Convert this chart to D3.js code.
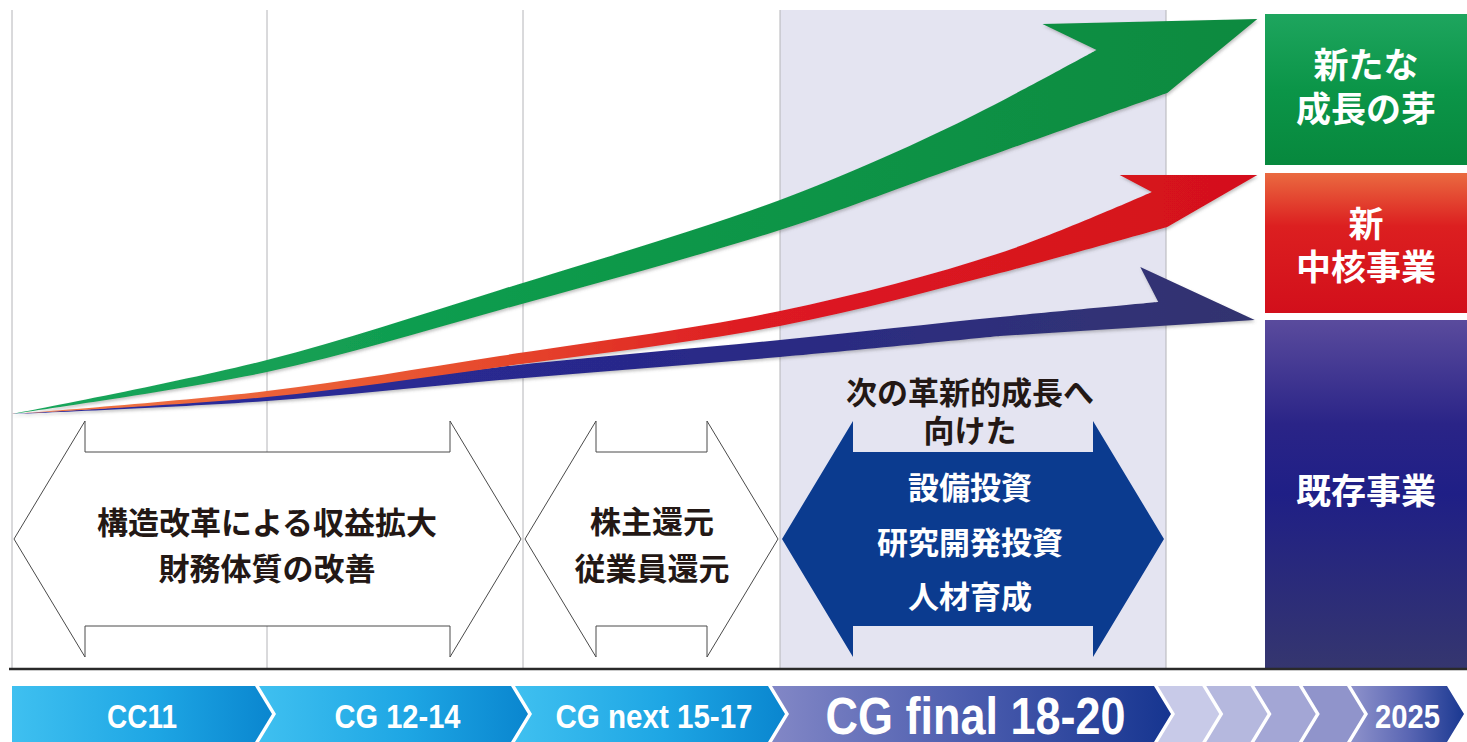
<!DOCTYPE html>
<html>
<head>
<meta charset="utf-8">
<script src="https://cdn.jsdelivr.net/npm/d3@7"></script>
<style>
  html, body { margin: 0; padding: 0; background: #fff; overflow: hidden; }
  svg { display: block; }
</style>
</head>
<body>
<svg id="chart" width="1467" height="742"></svg>
<script>
// Mid-term plan periods (fiscal years)
const planLabels = ["CC11", "CG 12-14", "CG next 15-17", "CG final 18-20"];
const planStart = [2011, 2012, 2015, 2018];
const planEnd = [2012, 2015, 2018, 2021];

// Roadmap steps after the final plan, up to the 2025 vision
const roadmapYears = [2021, 2022, 2023, 2024, 2025];
const roadmapLabels = ["", "", "", "", "2025"];

// Growth arrows: upper / lower edge as [fiscal year, growth index], head = [barb, tip]
const seedsUpper = [[2011, 0], [2012, 13.5], [2014.73, 31], [2018, 53.5], [2019.32, 71.75], [2020.46, 91]];
const seedsLower = [[2011, 0], [2012, 10.5], [2014.73, 26], [2018, 46], [2019.32, 61], [2021.01, 80.25]];
const seedsHead = [[2020.04, 97.5], [2021.71, 98.75]];

const coreUpper = [[2011, 0], [2012, 5.75], [2014.73, 14.5], [2018, 25.75], [2019.71, 40.25], [2020.89, 55.5]];
const coreLower = [[2011, 0], [2012, 4.25], [2014.73, 11.75], [2018, 22], [2019.71, 35.25], [2021.01, 46.75]];
const coreHead = [[2020.64, 59.75], [2021.71, 59.75]];

const baseUpper = [[2011, 0], [2012, 4.5], [2014.73, 11.75], [2018, 18.5], [2019.71, 24.25], [2020.94, 28]];
const baseLower = [[2011, 0], [2012, 3.25], [2014.73, 8.5], [2018, 14.25], [2019.71, 19.5]];
const baseHead = [[2020.80, 36.75], [2021.69, 23.5]];

// Business segments (right-hand column)
const businessNames = [["新たな", "成長の芽"], ["新", "中核事業"], ["既存事業"]];

// Policy themes under each period
const policyLines = [
  ["構造改革による収益拡大", "財務体質の改善"],
  ["株主還元", "従業員還元"],
  ["設備投資", "研究開発投資", "人材育成"]
];
const policyFrom = [2011, 2015, 2018];
const policyTo = [2015, 2018, 2021];
const policyCaption = ["次の革新的成長へ", "向けた"];

// ---------------------------------------------------------------
const svg = d3.select("#chart");
const W = 1467, H = 742;
const jpFont = "'Noto Sans CJK JP', 'Noto Sans', sans-serif";
const latinFont = "'Liberation Sans', Arial, sans-serif";

// piecewise time axis: each plan gets its own width
const x = d3.scaleLinear()
  .domain([2011, 2012, 2015, 2018, 2021])
  .range([12, 267, 523, 780, 1166]);
const y = d3.scaleLinear().domain([0, 100]).range([414, 14]);
const xRoad = d3.scaleLinear().domain([2021, 2025]).range([1158, 1351]);

const plotTop = 10, plotBottom = 668;
const defs = svg.append("defs");

function linGrad(id, stops, x1, y1, x2, y2, user) {
  const g = defs.append("linearGradient").attr("id", id)
    .attr("x1", x1).attr("y1", y1).attr("x2", x2).attr("y2", y2);
  if (user) g.attr("gradientUnits", "userSpaceOnUse");
  stops.forEach(([o, c]) => g.append("stop").attr("offset", o).attr("stop-color", c));
  return `url(#${id})`;
}

// shadow under growth arrows
const f = defs.append("filter").attr("id", "shadow")
  .attr("x", "-5%").attr("y", "-20%").attr("width", "110%").attr("height", "140%");
f.append("feDropShadow").attr("dx", 1).attr("dy", 2).attr("stdDeviation", 1.6)
  .attr("flood-color", "#555").attr("flood-opacity", 0.35);

// final-plan highlight band
svg.append("rect")
  .attr("x", x(2018)).attr("y", plotTop)
  .attr("width", x(2021) - x(2018)).attr("height", plotBottom - plotTop)
  .attr("fill", "#e4e4f1");

// period dividers
svg.append("g").selectAll("line")
  .data(planStart.concat([planEnd[planEnd.length - 1]]))
  .join("line")
  .attr("x1", d => x(d)).attr("x2", d => x(d))
  .attr("y1", plotTop).attr("y2", plotBottom)
  .attr("stroke", "#b4b4b8").attr("stroke-width", 1);

// ---------------- policy double arrows ----------------
function dblArrow(x0, x1, cy, hw, barbH, shaftH) {
  return `M${x0},${cy}L${x0 + hw},${cy - barbH}L${x0 + hw},${cy - shaftH}` +
    `L${x1 - hw},${cy - shaftH}L${x1 - hw},${cy - barbH}L${x1},${cy}` +
    `L${x1 - hw},${cy + barbH}L${x1 - hw},${cy + shaftH}L${x0 + hw},${cy + shaftH}` +
    `L${x0 + hw},${cy + barbH}Z`;
}
const arrowCy = 539, barbH = 118, shaftH = 87, headW = 71;

policyFrom.forEach((from, i) => {
  const x0 = x(from) + 2, x1 = x(policyTo[i]) - 2;
  const filled = i === policyFrom.length - 1;
  svg.append("path")
    .attr("d", dblArrow(x0, x1, arrowCy, headW, barbH, shaftH))
    .attr("fill", filled ? "#0b3b8f" : "#ffffff")
    .attr("stroke", filled ? "none" : "#4a4a4a")
    .attr("stroke-width", 1);
});

// policy texts
const policyCx = [267, 652, 970];
const policyY = [[520, 566], [519, 566], [485, 540, 594]];
policyLines.forEach((lines, i) => {
  const filled = i === policyLines.length - 1;
  lines.forEach((t, j) => {
    svg.append("text")
      .attr("x", policyCx[i]).attr("y", policyY[i][j])
      .attr("text-anchor", "middle").attr("dominant-baseline", "central")
      .attr("font-family", jpFont).attr("font-weight", 700)
      .attr("font-size", 31)
      .attr("fill", filled ? "#ffffff" : "#231815")
      .text(t);
  });
});
policyCaption.forEach((t, j) => {
  svg.append("text")
    .attr("x", 970).attr("y", [390, 428][j])
    .attr("text-anchor", "middle").attr("dominant-baseline", "central")
    .attr("font-family", jpFont).attr("font-weight", 700)
    .attr("font-size", 31).attr("fill", "#231815")
    .text(t);
});

// ---------------- growth arrows ----------------
const edge = d3.line().x(d => x(d[0])).y(d => y(d[1])).curve(d3.curveCatmullRom.alpha(0.5));
function growthPath(upper, lower, head) {
  const up = edge(upper);
  const low = edge(lower.slice().reverse()).replace(/^M/, "L");
  const [barb, tip] = head;
  return `${up}L${x(barb[0])},${y(barb[1])}L${x(tip[0])},${y(tip[1])}${low}Z`;
}

const gBase = linGrad("gBase", [[0, "#2b2ba0"], [0.5, "#28288a"], [1, "#33346f"]], 12, 0, 1260, 0, true);
const gCore = linGrad("gCore", [[0, "#f07a48"], [0.35, "#e8502e"], [0.6, "#dd1a22"], [1, "#d4101c"]], 12, 0, 1260, 0, true);
const gSeeds = linGrad("gSeeds", [[0, "#1aa65c"], [0.5, "#0b9849"], [1, "#078a40"]], 12, 0, 1260, 0, true);

const arrows = svg.append("g").attr("filter", "url(#shadow)");
arrows.append("path").attr("d", growthPath(baseUpper, baseLower, baseHead)).attr("fill", gBase);
arrows.append("path").attr("d", growthPath(coreUpper, coreLower, coreHead)).attr("fill", gCore);
arrows.append("path").attr("d", growthPath(seedsUpper, seedsLower, seedsHead)).attr("fill", gSeeds);

// ---------------- business segment boxes ----------------
const boxX0 = 1265, boxX1 = W;
const boxes = [
  { y0: 14, y1: 165, fill: linGrad("bSeeds", [[0, "#1ea55e"], [0.5, "#0b9548"], [1, "#07883d"]], 0, 0, 0, 1), lines: [62, 106] },
  { y0: 173, y1: 313, fill: linGrad("bCore", [[0, "#ea6a40"], [0.38, "#dc1f20"], [1, "#d20f1b"]], 0, 0, 0, 1), lines: [221, 264] },
  { y0: 320, y1: plotBottom, fill: linGrad("bBase", [[0, "#5a4b9d"], [0.3, "#2a2487"], [0.5, "#1f1f86"], [1, "#35366f"]], 0, 0, 0, 1), lines: [488] }
];
boxes.forEach((b, i) => {
  svg.append("rect").attr("x", boxX0).attr("y", b.y0)
    .attr("width", boxX1 - boxX0).attr("height", b.y1 - b.y0)
    .attr("fill", b.fill);
  businessNames[i].forEach((t, j) => {
    svg.append("text")
      .attr("x", 1366).attr("y", b.lines[j])
      .attr("text-anchor", "middle").attr("dominant-baseline", "central")
      .attr("font-family", jpFont).attr("font-weight", 700)
      .attr("font-size", 35).attr("fill", "#ffffff")
      .text(t);
  });
});

// baseline
svg.append("line").attr("x1", 9).attr("x2", W).attr("y1", plotBottom + 1).attr("y2", plotBottom + 1)
  .attr("stroke", "#2a2a2a").attr("stroke-width", 2.5);

// ---------------- plan chevrons ----------------
const chevTop = 686, chevBot = 742, chevD = 17, gap = 4;
function chevron(xl, xr, notched) {
  const mid = (chevTop + chevBot) / 2;
  return `M${xl},${chevTop}L${xr},${chevTop}L${xr + chevD},${mid}L${xr},${chevBot}L${xl},${chevBot}` +
    (notched ? `L${xl + chevD},${mid}Z` : "Z");
}
const gCyan = linGrad("gCyan", [[0, "#3fc0f0"], [0.55, "#1ea6e4"], [1, "#0a86cf"]], 0, 0, 1, 0);
const gFinal = linGrad("gFinal", [[0, "#8287c6"], [0.5, "#4b5cae"], [1, "#163590"]], 0, 0, 1, 0);
const gGoal = linGrad("gGoal", [[0, "#8e92cb"], [0.5, "#5b67b4"], [1, "#1a3891"]], 0, 0, 1, 0);

// condensed label widths
const planLabelWidth = [70, 126, 197, 300];

const chevGroup = svg.append("g");
planLabels.forEach((label, i) => {
  const xl = i === 0 ? x(planStart[i]) : x(planStart[i]) - 12 + gap;
  const xr = x(planEnd[i]) - 12;
  const final = i === planLabels.length - 1;
  chevGroup.append("path").attr("d", chevron(xl, xr, i > 0))
    .attr("fill", final ? gFinal : gCyan);
  chevGroup.append("text")
    .attr("x", (xl + xr) / 2 + chevD / 2 + (i === 0 ? 0 : 4))
    .attr("y", (chevTop + chevBot) / 2 + 2)
    .attr("text-anchor", "middle").attr("dominant-baseline", "central")
    .attr("font-family", latinFont).attr("font-weight", 700)
    .attr("font-size", final ? 51 : 33)
    .attr("textLength", planLabelWidth[i]).attr("lengthAdjust", "spacingAndGlyphs")
    .attr("fill", "#ffffff")
    .text(label);
});

const roadShade = d3.scaleLinear().domain([2021, 2024]).range(["#c8cae8", "#9094cb"]);
roadmapYears.forEach((yr, i) => {
  const xl = xRoad(yr);
  const last = i === roadmapYears.length - 1;
  const xr = last ? 1447 : xRoad(yr + 1) - gap;
  chevGroup.append("path").attr("d", chevron(xl, xr, true))
    .attr("fill", last ? gGoal : roadShade(yr));
  if (roadmapLabels[i]) {
    chevGroup.append("text")
      .attr("x", (xl + xr) / 2 + chevD / 2)
      .attr("y", (chevTop + chevBot) / 2 + 2)
      .attr("text-anchor", "middle").attr("dominant-baseline", "central")
      .attr("font-family", latinFont).attr("font-weight", 700)
      .attr("font-size", 33)
      .attr("textLength", 65).attr("lengthAdjust", "spacingAndGlyphs")
      .attr("fill", "#ffffff")
      .text(roadmapLabels[i]);
  }
});
</script>
</body>
</html>
